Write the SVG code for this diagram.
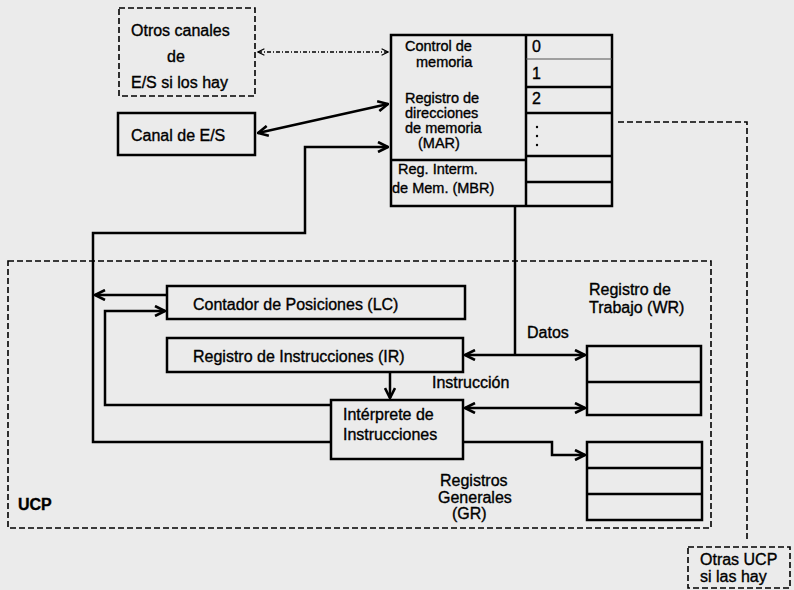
<svg xmlns="http://www.w3.org/2000/svg" width="794" height="590" viewBox="0 0 794 590">
<defs>
<marker id="ah" viewBox="0 0 12 12" refX="11" refY="6" markerWidth="12" markerHeight="12" markerUnits="userSpaceOnUse" orient="auto-start-reverse">
<path d="M1,1 L11,6 L1,11" fill="none" stroke="#000" stroke-width="2.6"/>
</marker>
<marker id="ahs" viewBox="0 0 10 10" refX="9" refY="5" markerWidth="8" markerHeight="8" markerUnits="userSpaceOnUse" orient="auto-start-reverse">
<path d="M1,1 L9,5 L1,9" fill="none" stroke="#000" stroke-width="1.5"/>
</marker>
</defs>
<style>
text{font-family:"Liberation Sans",Arial,sans-serif;font-size:16px;fill:#000;stroke:#000;stroke-width:0.35}
.sm{font-size:14.5px}
.box{fill:none;stroke:#000;stroke-width:2.5}
.dbox{fill:none;stroke:#000;stroke-width:1.6;stroke-dasharray:6,3}
.ln{fill:none;stroke:#000;stroke-width:2.5}
.dl{fill:none;stroke:#000;stroke-width:1.6;stroke-dasharray:6,3}
.b{font-weight:bold}
</style>
<rect width="794" height="590" fill="#ebebeb"/>

<g id="ucp">
<rect class="dbox" x="8" y="261" width="703" height="267"/>
<text class="b" x="18" y="510">UCP</text>
</g>

<g id="otros-canales">
<rect class="dbox" x="119" y="8" width="136" height="88"/>
<text x="131" y="36">Otros canales</text>
<text x="167" y="62">de</text>
<text x="131" y="88">E/S si los hay</text>
</g>

<g id="canal">
<rect class="box" x="118" y="113" width="137" height="42"/>
<text x="131" y="141">Canal de E/S</text>
</g>

<g id="memoria">
<rect class="box" x="391" y="35" width="221" height="171"/>
<line class="ln" x1="526" y1="35" x2="526" y2="206"/>
<line class="ln" x1="391" y1="160" x2="526" y2="160"/>
<line x1="526" y1="59" x2="612" y2="59" stroke="#555" stroke-width="1.2"/>
<line class="ln" x1="526" y1="87" x2="612" y2="87"/>
<line class="ln" x1="526" y1="113" x2="612" y2="113"/>
<line class="ln" x1="526" y1="156" x2="612" y2="156"/>
<line class="ln" x1="526" y1="182" x2="612" y2="182"/>
<text class="sm" x="405" y="51">Control de</text>
<text class="sm" x="416" y="67">memoria</text>
<text class="sm" x="405" y="103">Registro de</text>
<text class="sm" x="405" y="118">direcciones</text>
<text class="sm" x="405" y="133">de memoria</text>
<text class="sm" x="418" y="148">(MAR)</text>
<text class="sm" x="398" y="174">Reg. Interm.</text>
<text class="sm" x="392" y="193">de Mem. (MBR)</text>
<text x="532" y="52">0</text>
<text x="532" y="79">1</text>
<text x="532" y="104">2</text>
<circle cx="537" cy="127" r="1.2"/>
<circle cx="537" cy="136" r="1.2"/>
<circle cx="537" cy="145" r="1.2"/>
</g>

<g id="lc">
<rect class="box" x="167" y="286" width="298" height="33"/>
<text x="193" y="310">Contador de Posiciones (LC)</text>
</g>

<g id="ir">
<rect class="box" x="167" y="338" width="296" height="34"/>
<text x="193" y="362">Registro de Instrucciones (IR)</text>
</g>

<g id="interprete">
<rect class="box" x="331" y="400" width="132" height="59"/>
<text x="343" y="420">Intérprete de</text>
<text x="343" y="440">Instrucciones</text>
</g>

<g id="wr">
<rect class="box" x="587" y="346" width="114" height="69"/>
<line class="ln" x1="587" y1="382" x2="701" y2="382"/>
<text x="589" y="295">Registro de</text>
<text x="589" y="313">Trabajo (WR)</text>
</g>

<g id="gr">
<rect class="box" x="587" y="442" width="115" height="78"/>
<line class="ln" x1="587" y1="468" x2="702" y2="468"/>
<line class="ln" x1="587" y1="494" x2="702" y2="494"/>
<text x="440" y="486">Registros</text>
<text x="438" y="503">Generales</text>
<text x="452" y="519">(GR)</text>
</g>

<g id="otras-ucp">
<rect class="dbox" x="688" y="547" width="102" height="41"/>
<text x="700" y="565">Otras UCP</text>
<text x="700" y="582">si las hay</text>
</g>

<g id="connectors">
<line x1="258" y1="52" x2="388" y2="52" stroke="#000" stroke-width="1.3" stroke-dasharray="4,2,1,2" marker-start="url(#ahs)" marker-end="url(#ahs)"/>
<line class="ln" x1="258" y1="133" x2="388" y2="104" marker-start="url(#ah)" marker-end="url(#ah)"/>
<polyline class="ln" points="331,442 93,442 93,233 305,233 305,147 388,147" marker-end="url(#ah)"/>
<line class="ln" x1="167" y1="295" x2="95" y2="295" marker-end="url(#ah)"/>
<polyline class="ln" points="331,405 105,405 105,311 165,311" marker-end="url(#ah)"/>
<line class="ln" x1="515" y1="206" x2="515" y2="355"/>
<line class="ln" x1="465" y1="355" x2="585" y2="355" marker-start="url(#ah)" marker-end="url(#ah)"/>
<line class="ln" x1="390" y1="372" x2="390" y2="398" marker-end="url(#ah)"/>
<line class="ln" x1="465" y1="408" x2="585" y2="408" marker-start="url(#ah)" marker-end="url(#ah)"/>
<polyline class="ln" points="463,442 552,442 552,455 585,455" marker-end="url(#ah)"/>
<polyline class="dl" points="618,122 747,122 747,540"/>
<text x="527" y="338">Datos</text>
<text x="432" y="388">Instrucción</text>
</g>
</svg>
